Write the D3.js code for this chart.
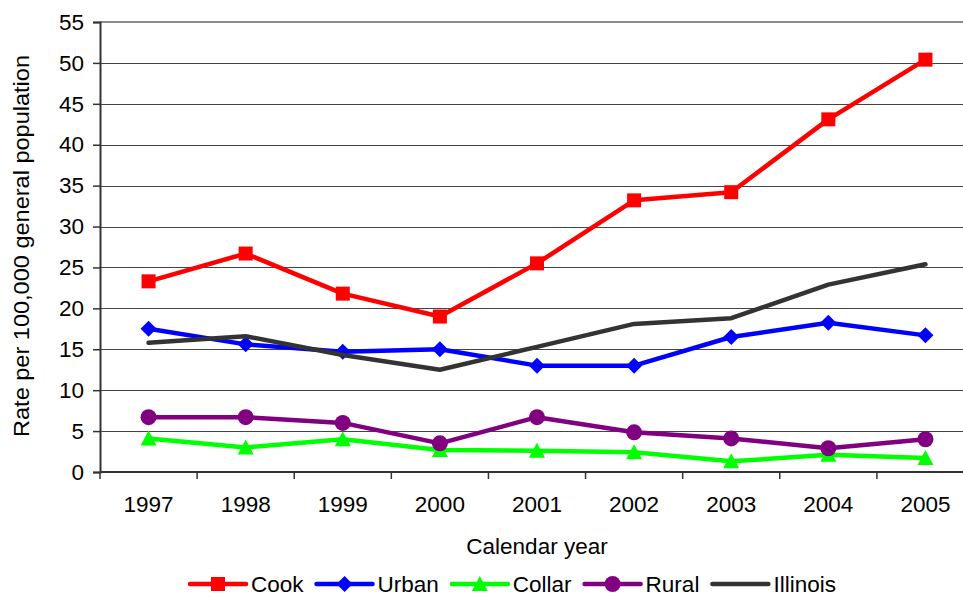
<!DOCTYPE html>
<html>
<head>
<meta charset="utf-8">
<script src="https://cdn.jsdelivr.net/npm/d3@7"></script>
<style>
  body { margin: 0; background: #fff; }
  text { font-family: "Liberation Sans", Arial, sans-serif; fill: #000; }
</style>
</head>
<body>
<div id="chart"></div>
<script>
// data
var years = ["1997", "1998", "1999", "2000", "2001", "2002", "2003", "2004", "2005"];
var cook = [23.3, 26.7, 21.8, 19.0, 25.5, 33.2, 34.2, 43.1, 50.4];
var urban = [17.5, 15.6, 14.7, 15.0, 13.0, 13.0, 16.5, 18.25, 16.7];
var collar = [4.1, 3.0, 4.0, 2.7, 2.6, 2.4, 1.3, 2.1, 1.7];
var rural = [6.7, 6.7, 6.0, 3.5, 6.7, 4.85, 4.1, 2.9, 4.0];
var illinois = [15.8, 16.6, 14.3, 12.5, 15.3, 18.1, 18.8, 22.9, 25.4];
var yTicks = [0, 5, 10, 15, 20, 25, 30, 35, 40, 45, 50, 55];

var series = [
  { name: "Cook", values: cook, color: "#ff0000", marker: "square" },
  { name: "Urban", values: urban, color: "#0000ff", marker: "diamond" },
  { name: "Collar", values: collar, color: "#00ff00", marker: "triangle" },
  { name: "Rural", values: rural, color: "#800080", marker: "circle" },
  { name: "Illinois", values: illinois, color: "#333333", marker: "none" }
];

var W = 963, H = 597;
var margin = { top: 22, left: 100 },
    plotW = 874, plotH = 450;
var fs = "22.5px";

var svg = d3.select("#chart").append("svg")
  .attr("width", W).attr("height", H);

var inner = svg.append("g")
  .attr("transform", "translate(" + margin.left + "," + margin.top + ")");

var x = d3.scaleBand().domain(years).range([0, plotW]).padding(0);
var y = d3.scaleLinear().domain([0, 55]).range([plotH, 0]);

// gridlines
inner.append("g").selectAll("line")
  .data(yTicks.filter(function (d) { return d > 0 && d < 55; }))
  .enter().append("line")
  .attr("x1", 0).attr("x2", plotW)
  .attr("y1", function (d) { return Math.round(y(d)) + 0.5; })
  .attr("y2", function (d) { return Math.round(y(d)) + 0.5; })
  .attr("stroke", "#444").attr("stroke-width", 1);

// top border
inner.append("line")
  .attr("x1", 0).attr("x2", plotW).attr("y1", y(55)).attr("y2", y(55))
  .attr("stroke", "#8c8c8c").attr("stroke-width", 2);

// y axis
var yAxis = inner.append("g")
  .call(d3.axisLeft(y).tickValues(yTicks).tickSize(7).tickPadding(9));
yAxis.select(".domain").attr("stroke", "#333").attr("stroke-width", 2);
yAxis.selectAll(".tick line").attr("stroke", "#333").attr("stroke-width", 1.5);
yAxis.selectAll("text")
  .style("font-size", fs).style("font-family", "Liberation Sans, Arial, sans-serif")
  .attr("fill", "#000");

// x axis: ticks at category boundaries
var xAxis = inner.append("g").attr("transform", "translate(0," + plotH + ")");
xAxis.append("line").attr("x1", 0).attr("x2", plotW)
  .attr("stroke", "#333").attr("stroke-width", 2);
xAxis.selectAll(".xt").data(years).enter().append("line")
  .attr("x1", function (d) { return x(d); }).attr("x2", function (d) { return x(d); })
  .attr("y1", 0).attr("y2", 7)
  .attr("stroke", "#333").attr("stroke-width", 1.5);
xAxis.selectAll(".xl").data(years).enter().append("text")
  .attr("x", function (d) { return x(d) + x.bandwidth() / 2; })
  .attr("y", 40)
  .attr("text-anchor", "middle")
  .style("font-size", fs)
  .text(function (d) { return d; });

// axis titles
svg.append("text")
  .attr("x", 537).attr("y", 554)
  .attr("text-anchor", "middle")
  .style("font-size", fs)
  .text("Calendar year");

svg.append("text")
  .attr("transform", "translate(29,246) rotate(-90)")
  .attr("text-anchor", "middle")
  .attr("textLength", 382)
  .attr("lengthAdjust", "spacingAndGlyphs")
  .style("font-size", fs)
  .text("Rate per 100,000 general population");

// marker drawing
function drawMarker(g, type, color) {
  if (type === "square") {
    g.append("rect").attr("x", -7).attr("y", -7).attr("width", 14).attr("height", 14).attr("fill", color);
  } else if (type === "diamond") {
    g.append("path").attr("d", "M0,-8L8,0L0,8L-8,0Z").attr("fill", color);
  } else if (type === "triangle") {
    g.append("path").attr("d", "M0,-8L8,7L-8,7Z").attr("fill", color);
  } else if (type === "circle") {
    g.append("circle").attr("r", 8).attr("fill", color);
  }
}

var line = d3.line()
  .x(function (d, i) { return x(years[i]) + x.bandwidth() / 2; })
  .y(function (d) { return y(d); });

series.forEach(function (s) {
  var g = inner.append("g");
  g.append("path")
    .attr("d", line(s.values))
    .attr("fill", "none")
    .attr("stroke", s.color)
    .attr("stroke-width", 4.5)
    .attr("stroke-linejoin", "round")
    .attr("stroke-linecap", "round");
  s.values.forEach(function (v, i) {
    var m = g.append("g")
      .attr("transform", "translate(" + (x(years[i]) + x.bandwidth() / 2) + "," + y(v) + ")");
    drawMarker(m, s.marker, s.color);
  });
});

// legend
var legend = svg.append("g").attr("transform", "translate(190,584)");
var lx = 0;
series.forEach(function (s) {
  var item = legend.append("g").attr("transform", "translate(" + lx + ",0)");
  item.append("line").attr("x1", 0).attr("x2", 56).attr("y1", 0).attr("y2", 0)
    .attr("stroke", s.color).attr("stroke-width", 4.5).attr("stroke-linecap", "round");
  var m = item.append("g").attr("transform", "translate(28,0)");
  drawMarker(m, s.marker, s.color);
  var t = item.append("text").attr("x", 61).attr("y", 8)
    .style("font-size", fs).text(s.name);
  lx += 61 + t.node().getComputedTextLength() + 13;
});
</script>
</body>
</html>
